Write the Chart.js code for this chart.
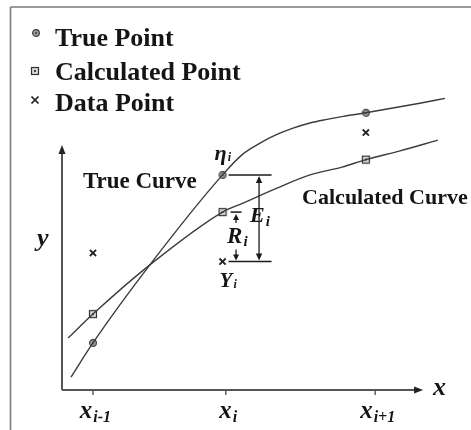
<!DOCTYPE html>
<html>
<head>
<meta charset="utf-8">
<script src="https://cdn.jsdelivr.net/npm/chart.js@4/dist/chart.umd.min.js"></script>
<style>
  html, body { margin: 0; padding: 0; background: #fff; }
  #wrap { width: 471px; height: 430px; position: relative; }
</style>
</head>
<body>
<div id="wrap"><canvas id="chart"></canvas></div>
<script>
// marker columns and the three kinds of points at each
const xCols = [0.86, 4.46, 8.44];
const trueY = [1.57, 7.17, 9.24];
const calcY = [2.53, 5.93, 7.68];
const dataY = [4.57, 4.28, 8.58];

// curves, sampled along their length
const trueCurveX = [0.25, 0.86, 2.44, 4.46, 5.03, 5.5, 5.97, 6.42, 6.89, 7.36, 7.81, 8.44, 9.94, 10.64];
const trueCurveY = [0.43, 1.57, 4.17, 7.17, 7.87, 8.23, 8.52, 8.73, 8.9, 9.02, 9.12, 9.24, 9.56, 9.72];
const calcCurveX = [0.17, 0.86, 2.44, 4.46, 5.03, 5.97, 6.89, 7.78, 8.44, 9.39, 10.44];
const calcCurveY = [1.73, 2.53, 4.17, 5.93, 6.23, 6.73, 7.17, 7.43, 7.68, 7.97, 8.33];

// x axis ticks
const tickX = [0.86, 4.55, 8.7];
const tickSubs = ['i-1', 'i', 'i+1'];
const axisEnd = {x: 10.03, y: 8.17};

const legendLabels = ['True Point', 'Calculated Point', 'Data Point'];

const SERIF = '"Liberation Serif", "DejaVu Serif", serif';
const INK = '#151515';

function markerCanvas(kind) {
  const c = document.createElement('canvas');
  c.width = 10; c.height = 10;
  const g = c.getContext('2d');
  if (kind === 'circle') {
    g.beginPath();
    g.arc(5, 5, 3.4, 0, Math.PI * 2);
    g.fillStyle = '#9a9a9a';
    g.fill();
    g.lineWidth = 1.1;
    g.strokeStyle = '#3a3a3a';
    g.stroke();
    g.fillStyle = '#333';
    g.fillRect(4.2, 4.2, 1.6, 1.6);
  } else {
    g.fillStyle = '#d8d8d8';
    g.fillRect(1.5, 1.5, 7, 7);
    g.lineWidth = 1.2;
    g.strokeStyle = '#333';
    g.strokeRect(1.5, 1.5, 7, 7);
    g.fillStyle = '#444';
    g.fillRect(4, 4, 2, 2);
  }
  return c;
}

const trueMarker = markerCanvas('circle');
const calcMarker = markerCanvas('square');

const pts = (xs, ys) => xs.map((v, i) => ({x: v, y: ys[i]}));

function arrowHead(ctx, x, y, dir, len, half) {
  len = len || 8; half = half || 3.5;
  ctx.beginPath();
  ctx.moveTo(x, y);
  if (dir === 'up') { ctx.lineTo(x - half, y + len); ctx.lineTo(x + half, y + len); }
  if (dir === 'down') { ctx.lineTo(x - half, y - len); ctx.lineTo(x + half, y - len); }
  if (dir === 'right') { ctx.lineTo(x - len, y - half); ctx.lineTo(x - len, y + half); }
  ctx.closePath();
  ctx.fill();
}

function line(ctx, x1, y1, x2, y2) {
  ctx.beginPath();
  ctx.moveTo(x1, y1);
  ctx.lineTo(x2, y2);
  ctx.stroke();
}

// text with a lowered, smaller suffix
function subText(ctx, main, sub, x, y, size, subSize, drop, center) {
  const f1 = `bold italic ${size}px ${SERIF}`;
  const f2 = `bold italic ${subSize}px ${SERIF}`;
  ctx.font = f1;
  const w1 = ctx.measureText(main).width;
  ctx.font = f2;
  const w2 = ctx.measureText(sub).width;
  let x0 = center ? x - (w1 + w2) / 2 : x;
  ctx.textAlign = 'left';
  ctx.textBaseline = 'alphabetic';
  ctx.font = f1;
  ctx.fillText(main, x0, y);
  ctx.font = f2;
  ctx.fillText(sub, x0 + w1 + 1, y + drop);
}

const decorations = {
  id: 'decorations',
  afterDatasetsDraw(chart) {
    const {ctx, scales: {x, y}} = chart;
    const px = v => x.getPixelForValue(v);
    const py = v => y.getPixelForValue(v);
    ctx.save();

    // outer frame (top and left edges)
    ctx.strokeStyle = '#7a7a7a';
    ctx.lineWidth = 1.6;
    line(ctx, 10.5, 7, 471, 7);
    line(ctx, 10.5, 7, 10.5, 430);

    // axes with arrow heads
    const ox = px(0), oy = py(0);
    ctx.strokeStyle = '#555';
    ctx.fillStyle = '#222';
    ctx.lineWidth = 2;
    line(ctx, ox, oy, px(axisEnd.x) - 6, oy);
    line(ctx, ox, oy, ox, py(axisEnd.y) + 6);
    arrowHead(ctx, px(axisEnd.x), oy, 'right', 9, 3.5);
    arrowHead(ctx, ox, py(axisEnd.y), 'up', 9, 3.5);

    // tick marks and tick labels
    ctx.lineWidth = 1.4;
    ctx.fillStyle = INK;
    tickX.forEach((t, i) => {
      line(ctx, px(t), oy, px(t), oy + 5);
      subText(ctx, 'x', tickSubs[i], px(t) + 2, oy + 28, 25, 16, 4, true);
    });

    // axis names
    ctx.font = `bold italic 26px ${SERIF}`;
    ctx.textAlign = 'left';
    ctx.fillText('x', px(axisEnd.x) + 10, oy + 5);
    ctx.fillText('y', ox - 25, py(4.8));

    // curve names
    ctx.font = `bold 23px ${SERIF}`;
    ctx.fillText('True Curve', px(0.58), py(6.73));
    ctx.font = `bold 22px ${SERIF}`;
    ctx.fillText('Calculated Curve', px(6.67), py(6.2));

    // error bars at the middle column
    const xi = px(xCols[1]);
    const yT = py(trueY[1]), yC = py(calcY[1]), yD = py(dataY[1]);
    ctx.strokeStyle = '#1a1a1a';
    ctx.fillStyle = '#1a1a1a';
    ctx.lineWidth = 1.5;
    line(ctx, xi + 6, yT, xi + 49, yT);
    line(ctx, xi + 6, yD, xi + 49, yD);
    line(ctx, xi + 8, yC, xi + 19, yC);

    const eX = xi + 36.5;
    ctx.lineWidth = 1.3;
    line(ctx, eX, yT + 6, eX, yD - 6);
    arrowHead(ctx, eX, yT + 1, 'up', 7, 3.2);
    arrowHead(ctx, eX, yD - 1, 'down', 7, 3.2);

    const rX = xi + 13.5;
    line(ctx, rX, yC + 6, rX, yC + 11);
    arrowHead(ctx, rX, yC + 2, 'up', 6, 3);
    line(ctx, rX, yD - 12, rX, yD - 6);
    arrowHead(ctx, rX, yD - 1, 'down', 6, 3);

    ctx.fillStyle = INK;
    subText(ctx, 'E', 'i', eX - 9, yT + 47, 22, 15, 4, false);
    subText(ctx, 'R', 'i', rX - 9, yC + 31, 23, 15, 3, false);
    subText(ctx, '\u03b7', 'i', xi - 8, yT - 15, 22, 12, 1, false);
    subText(ctx, 'Y', 'i', xi - 3, yD + 25, 21, 12, 1, false);

    // legend
    const legendY = [46, 80, 111];
    const markY = [33, 71, 100];
    ctx.font = `bold 26px ${SERIF}`;
    legendLabels.forEach((label, i) => {
      ctx.fillStyle = INK;
      ctx.fillText(label, 55, legendY[i]);
    });
    ctx.drawImage(trueMarker, 36 - 5, markY[0] - 5);
    ctx.drawImage(calcMarker, 35 - 5, markY[1] - 5);
    ctx.strokeStyle = '#222';
    ctx.lineWidth = 1.7;
    line(ctx, 31.5, markY[2] - 3.5, 38.5, markY[2] + 3.5);
    line(ctx, 38.5, markY[2] - 3.5, 31.5, markY[2] + 3.5);

    ctx.restore();
  }
};

new Chart('chart', {
  type: 'scatter',
  data: {
    datasets: [
      {
        label: 'True Curve',
        data: pts(trueCurveX, trueCurveY),
        showLine: true,
        cubicInterpolationMode: 'monotone',
        borderColor: '#3c3c3c',
        borderWidth: 1.4,
        pointRadius: 0
      },
      {
        label: 'Calculated Curve',
        data: pts(calcCurveX, calcCurveY),
        showLine: true,
        cubicInterpolationMode: 'monotone',
        borderColor: '#3c3c3c',
        borderWidth: 1.4,
        pointRadius: 0
      },
      {
        label: 'True Point',
        data: pts(xCols, trueY),
        pointStyle: trueMarker,
        pointRadius: 5
      },
      {
        label: 'Calculated Point',
        data: pts(xCols, calcY),
        pointStyle: calcMarker,
        pointRadius: 5
      },
      {
        label: 'Data Point',
        data: pts(xCols, dataY),
        pointStyle: 'crossRot',
        pointRadius: 4.4,
        borderWidth: 1.8,
        borderColor: '#222'
      }
    ]
  },
  options: {
    responsive: true,
    maintainAspectRatio: false,
    animation: false,
    layout: {padding: {left: 62, top: 90, right: 13, bottom: 40}},
    scales: {
      x: {type: 'linear', min: 0, max: 11, display: false},
      y: {type: 'linear', min: 0, max: 10, display: false}
    },
    plugins: {
      legend: {display: false},
      tooltip: {enabled: false}
    }
  },
  plugins: [decorations]
});
</script>
</body>
</html>
